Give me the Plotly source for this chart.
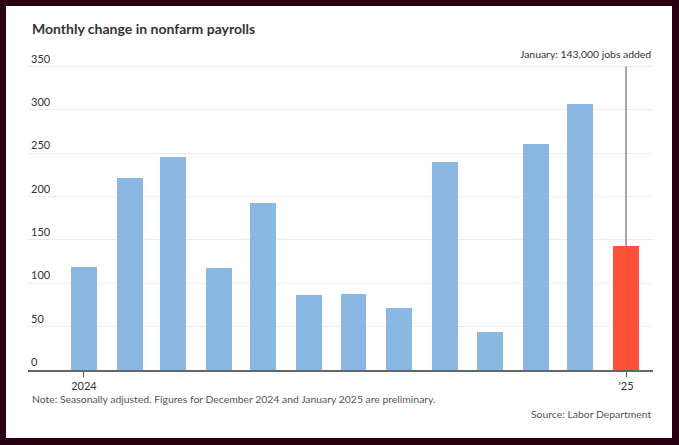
import plotly.graph_objects as go

# monthly payroll change, thousands of jobs
months = ["2024-01-01", "2024-02-01", "2024-03-01", "2024-04-01", "2024-05-01",
          "2024-06-01", "2024-07-01", "2024-08-01", "2024-09-01", "2024-10-01",
          "2024-11-01", "2024-12-01", "2025-01-01"]
jobs = [119, 222, 246, 118, 193, 87, 88, 71, 240, 44, 261, 307, 143]
tick_dates = ["2024-01-01", "2025-01-01"]
tick_text = ["2024", "'25"]
y_ticks = [0, 50, 100, 150, 200, 250, 300, 350]

blue = "#8ab8e2"
red = "#ff503a"
bg = "#2a0012"
colors = [blue] * (len(jobs) - 1) + [red]

DAY_MS = 86400000

fig = go.Figure()
fig.add_trace(go.Bar(
    x=months,
    y=jobs,
    width=17.5 * DAY_MS,
    marker=dict(color=colors, line=dict(width=0)),
    hoverinfo="x+y",
))

# white card on the dark background
fig.add_shape(type="rect", xref="paper", yref="paper",
              x0=-0.0352, x1=1.0304, y0=-0.2132, y1=1.1411,
              fillcolor="white", line=dict(width=0), layer="below")

# callout line for January
fig.add_shape(type="line", xref="x", yref="y",
              x0=months[-1], x1=months[-1], y0=jobs[-1], y1=350,
              line=dict(color="#8a8a8a", width=1.5))

font = "Lato, 'Open Sans', sans-serif"

fig.add_annotation(text="<b>Monthly change in nonfarm payrolls</b>",
                   xref="paper", yref="paper", x=0.0032, y=1.0712,
                   xanchor="left", yanchor="middle", showarrow=False,
                   font=dict(family=font, size=14, color="#333333"))
fig.add_annotation(text="January: 143,000 jobs added",
                   xref="paper", yref="paper", x=0.9992, y=0.9897,
                   xanchor="right", yanchor="middle", showarrow=False,
                   font=dict(family=font, size=10.4, color="#333333"))
fig.add_annotation(text="Note: Seasonally adjusted. Figures for December 2024 and January 2025 are preliminary.",
                   xref="paper", yref="paper", x=0.0032, y=-0.0909,
                   xanchor="left", yanchor="middle", showarrow=False,
                   font=dict(family=font, size=10.4, color="#555555"))
fig.add_annotation(text="Source: Labor Department",
                   xref="paper", yref="paper", x=0.9992, y=-0.1389,
                   xanchor="right", yanchor="middle", showarrow=False,
                   font=dict(family=font, size=10.4, color="#555555"))

fig.update_xaxes(
    type="date",
    range=["2023-11-24 05:00", "2025-01-19 05:00"],
    tickvals=tick_dates,
    ticktext=tick_text,
    ticks="outside", ticklen=5, tickcolor="#555555",
    showline=True, linecolor="#666666", linewidth=1.5,
    showgrid=False,
    tickfont=dict(family=font, size=11, color="#333333"),
)
fig.update_yaxes(
    range=[0, 368],
    tickvals=y_ticks,
    ticklabelposition="inside top",
    showgrid=True, gridcolor="#ebebeb", gridwidth=1,
    zeroline=False, showline=False, ticks="",
    tickfont=dict(family=font, size=11, color="#333333"),
)
fig.update_layout(
    width=679, height=445,
    margin=dict(l=28, r=26, t=51, b=75),
    paper_bgcolor=bg,
    plot_bgcolor="rgba(0,0,0,0)",
    showlegend=False,
    bargap=0,
)

fig.write_html("out.html",
               config={"displayModeBar": False},
               post_script="document.body.style.margin='0';"
                           "document.body.style.background='%s';" % bg)
